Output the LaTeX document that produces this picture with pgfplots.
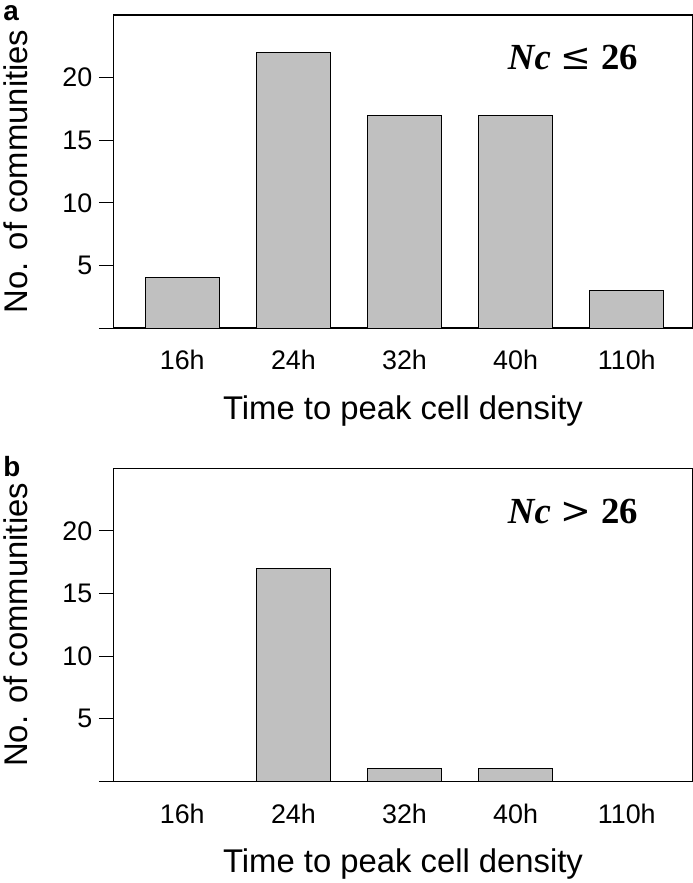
\documentclass[border=0pt]{standalone}
\usepackage{pgfplots}
\pgfplotsset{compat=1.18}
\usepackage{fontspec}
\setmainfont{Liberation Sans}
\newfontfamily\nfont{Liberation Serif}
\newfontfamily\symfont{DejaVu Serif}

\definecolor{bargray}{RGB}{192,192,192}

\pgfplotsset{
  panel/.style={
    width=582pt, height=315pt, scale only axis,
    xmin=-0.617, xmax=4.59, ymin=0, ymax=25,
    ybar, bar width=74pt,
    xtick={0,1,2,3,4},
    xticklabels={16h,24h,32h,40h,110h},
    ytick={0,5,10,15,20},
    yticklabels={,5,10,15,20},
    ytick pos=left,
    xtick style={draw=none},
    ytick style={line width=1pt, black},
    major tick length=15pt,
    tick align=outside,
    axis line style={line width=1.2pt},
    tick label style={font=\fontsize{27}{30}\selectfont},
    /pgf/number format/assume math mode=true,
    xticklabel style={yshift=-4pt},
    yticklabel style={xshift=-3pt},
    xlabel={Time to peak cell density},
    ylabel={No. of communities},
    every axis x label/.style={at={(rel axis cs:0.5,-0.265)},anchor=center,
      font=\fontsize{33}{37}\selectfont},
    every axis y label/.style={at={(rel axis cs:-0.17,0.5)},rotate=90,anchor=center,
      font=\fontsize{33}{37}\selectfont},
    clip=false,
  },
}

\begin{document}
\begin{tikzpicture}
\begin{axis}[panel, at={(0,0)}]
  \addplot[fill=bargray, draw=black, line width=1pt] coordinates {(0,4) (1,22) (2,17) (3,17) (4,3)};
  \node[anchor=north west, font=\fontsize{28}{32}\selectfont\bfseries, inner sep=0pt] at (rel axis cs:-0.191,1.03) {a};
  \node[anchor=center, font=\fontsize{37}{40}\selectfont, inner sep=0pt] at (rel axis cs:0.794,0.865) {{\nfont\bfseries\itshape Nc}\hspace{10pt}{\symfont ≤}\hspace{10pt}{\nfont\bfseries 26}};
\end{axis}
\begin{axis}[panel, at={(0,-456pt)}]
  \addplot[fill=bargray, draw=black, line width=1pt] coordinates {(1,17) (2,1) (3,1)};
  \node[anchor=north west, font=\fontsize{28}{32}\selectfont\bfseries, inner sep=0pt] at (rel axis cs:-0.191,1.038) {b};
  \node[anchor=center, font=\fontsize{37}{40}\selectfont, inner sep=0pt] at (rel axis cs:0.794,0.861) {{\nfont\bfseries\itshape Nc}\hspace{10pt}{\symfont >}\hspace{10pt}{\nfont\bfseries 26}};
\end{axis}
\end{tikzpicture}
\end{document}
